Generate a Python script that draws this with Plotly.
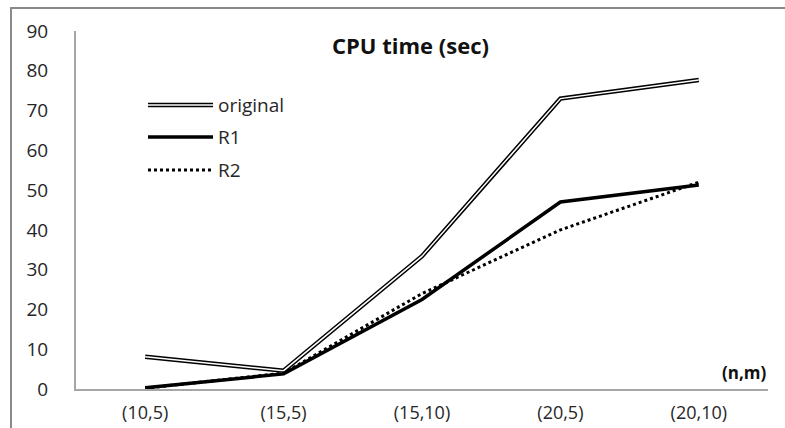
import plotly.graph_objects as go

categories = ["(10,5)", "(15,5)", "(15,10)", "(20,5)", "(20,10)"]
original = [8.1, 4.6, 33.4, 73.0, 77.7]
r1 = [0.3, 3.8, 22.5, 47.0, 51.3]
r2 = [0.2, 4.0, 24.0, 40.0, 52.0]
yticks = [0, 10, 20, 30, 40, 50, 60, 70, 80, 90]

W, H = 785, 428
L, R, T, B = 76, 17, 31, 39
pw, ph = W - L - R, H - T - B

def px_x(x):
    return (x - L) / pw

def px_y(y):
    return (H - B - y) / ph

fig = go.Figure()
# original: double line (black outline + white core)
fig.add_trace(go.Scatter(x=categories, y=original, mode="lines",
                         line=dict(color="black", width=4.5), showlegend=False, hoverinfo="skip"))
fig.add_trace(go.Scatter(x=categories, y=original, mode="lines", name="original",
                         line=dict(color="white", width=1.5), showlegend=False))
fig.add_trace(go.Scatter(x=categories, y=r1, mode="lines", name="R1",
                         line=dict(color="black", width=3.5), showlegend=False))
fig.add_trace(go.Scatter(x=categories, y=r2, mode="lines", name="R2",
                         line=dict(color="black", width=3, dash="dot"), showlegend=False))

font_fam = "Open Sans, Liberation Sans, sans-serif"
shapes = [
    # outer frame
    dict(type="rect", xref="paper", yref="paper",
         x0=px_x(11), x1=px_x(W + 100), y0=px_y(H + 100), y1=px_y(8),
         line=dict(color="#8a8a8a", width=2), layer="below"),
]
annotations = []
legend_rows = [("original", 105), ("R1", 137), ("R2", 170)]
for name, yy in legend_rows:
    y = px_y(yy)
    if name == "original":
        shapes.append(dict(type="line", xref="paper", yref="paper", x0=px_x(148), x1=px_x(213),
                           y0=y, y1=y, line=dict(color="black", width=4.5)))
        shapes.append(dict(type="line", xref="paper", yref="paper", x0=px_x(148), x1=px_x(213),
                           y0=y, y1=y, line=dict(color="white", width=1.5)))
    elif name == "R1":
        shapes.append(dict(type="line", xref="paper", yref="paper", x0=px_x(148), x1=px_x(213),
                           y0=y, y1=y, line=dict(color="black", width=3.5)))
    else:
        shapes.append(dict(type="line", xref="paper", yref="paper", x0=px_x(148), x1=px_x(213),
                           y0=y, y1=y, line=dict(color="black", width=3, dash="dot")))
    annotations.append(dict(text=name, xref="paper", yref="paper", x=px_x(216), y=y,
                            xanchor="left", yanchor="middle", showarrow=False,
                            font=dict(family=font_fam, size=19, color="#262626")))

annotations.append(dict(text="<b>CPU time (sec)</b>", xref="paper", yref="paper",
                        x=px_x(410), y=px_y(45), xanchor="center", yanchor="middle",
                        showarrow=False, font=dict(family=font_fam, size=22, color="#111")))
annotations.append(dict(text="<b>(n,m)</b>", xref="paper", yref="paper",
                        x=px_x(768), y=px_y(372), xanchor="right", yanchor="middle",
                        showarrow=False, font=dict(family=font_fam, size=17, color="#111")))

fig.update_layout(
    width=W, height=H,
    margin=dict(l=L, r=R, t=T, b=B, autoexpand=False),
    paper_bgcolor="white", plot_bgcolor="white",
    showlegend=False,
    shapes=shapes, annotations=annotations,
    xaxis=dict(type="category", range=[-0.5, 4.5], showgrid=False, zeroline=False,
               showline=True, linecolor="#a6a6a6", linewidth=2, ticks="",
               tickfont=dict(family=font_fam, size=18, color="#262626"),
               ticklabelstandoff=6, automargin=False),
    yaxis=dict(range=[0, 90], tickvals=yticks, showgrid=False, zeroline=False,
               showline=True, linecolor="#a6a6a6", linewidth=2, ticks="",
               tickfont=dict(family=font_fam, size=19, color="#262626"),
               ticklabelstandoff=22, automargin=False),
)

fig.write_html("out.html")
